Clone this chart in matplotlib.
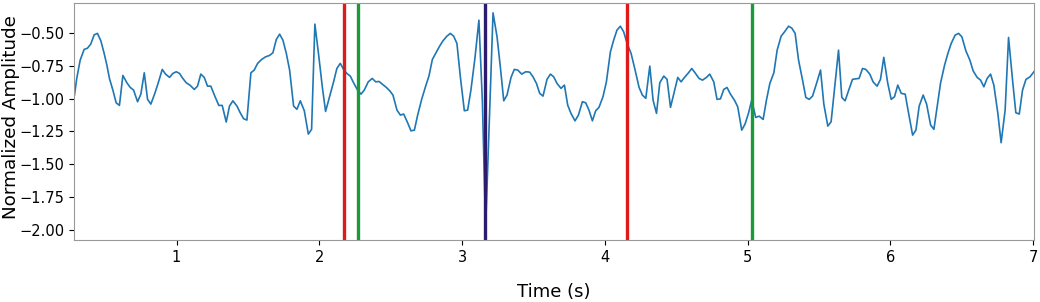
import matplotlib
matplotlib.use('Agg')
import matplotlib.pyplot as plt

# signal (time in s, normalized amplitude)
time_s = [
    0.285, 0.301, 0.325, 0.353, 0.376, 0.399, 0.423, 0.446, 0.470, 0.493,
    0.512, 0.530, 0.554, 0.577, 0.600, 0.624, 0.652, 0.676, 0.699, 0.727,
    0.750, 0.774, 0.797, 0.820, 0.848, 0.872, 0.900, 0.923, 0.951, 0.974,
    0.998, 1.021, 1.044, 1.068, 1.096, 1.124, 1.147, 1.170, 1.194, 1.217,
    1.240, 1.268, 1.296, 1.320, 1.348, 1.371, 1.395, 1.423, 1.446, 1.470,
    1.493, 1.521, 1.544, 1.568, 1.596, 1.624, 1.652, 1.675, 1.699, 1.722,
    1.745, 1.769, 1.792, 1.820, 1.843, 1.867, 1.895, 1.923, 1.946, 1.969,
    1.997, 2.021, 2.044, 2.072, 2.100, 2.123, 2.147, 2.170, 2.193, 2.217,
    2.240, 2.268, 2.292, 2.315, 2.343, 2.371, 2.395, 2.418, 2.441, 2.470,
    2.493, 2.516, 2.544, 2.568, 2.591, 2.619, 2.642, 2.666, 2.689, 2.717,
    2.745, 2.768, 2.792, 2.815, 2.843, 2.866, 2.894, 2.918, 2.941, 2.964,
    2.988, 3.016, 3.039, 3.062, 3.090, 3.118, 3.142, 3.165, 3.217, 3.245,
    3.268, 3.292, 3.315, 3.343, 3.366, 3.390, 3.418, 3.446, 3.474, 3.497,
    3.521, 3.544, 3.567, 3.595, 3.619, 3.642, 3.665, 3.693, 3.717, 3.740,
    3.763, 3.791, 3.815, 3.843, 3.866, 3.889, 3.913, 3.936, 3.959, 3.987,
    4.011, 4.039, 4.062, 4.085, 4.109, 4.132, 4.156, 4.184, 4.212, 4.240,
    4.263, 4.287, 4.315, 4.338, 4.362, 4.385, 4.413, 4.436, 4.460, 4.488,
    4.511, 4.534, 4.558, 4.586, 4.609, 4.632, 4.660, 4.684, 4.712, 4.735,
    4.763, 4.786, 4.810, 4.833, 4.856, 4.880, 4.908, 4.931, 4.959, 4.982,
    5.006, 5.029, 5.057, 5.081, 5.109, 5.132, 5.156, 5.184, 5.207, 5.235,
    5.259, 5.287, 5.310, 5.333, 5.357, 5.385, 5.408, 5.431, 5.455, 5.483,
    5.511, 5.534, 5.562, 5.585, 5.613, 5.637, 5.660, 5.683, 5.707, 5.735,
    5.758, 5.781, 5.805, 5.828, 5.856, 5.879, 5.907, 5.931, 5.954, 5.982,
    6.006, 6.029, 6.052, 6.076, 6.104, 6.128, 6.156, 6.179, 6.202, 6.230,
    6.254, 6.282, 6.305, 6.328, 6.352, 6.380, 6.403, 6.426, 6.454, 6.478,
    6.501, 6.529, 6.557, 6.580, 6.608, 6.632, 6.655, 6.678, 6.702, 6.725,
    6.753, 6.776, 6.804, 6.828, 6.856, 6.879, 6.903, 6.926, 6.950, 6.978,
    7.006,
]
amplitude = [
    -0.973, -0.846, -0.706, -0.624, -0.615, -0.584, -0.513, -0.502, -0.559, -0.655,
    -0.744, -0.846, -0.935, -1.032, -1.052, -0.823, -0.879, -0.915, -0.935, -1.024,
    -0.966, -0.803, -1.006, -1.042, -0.960, -0.879, -0.777, -0.813, -0.838, -0.808,
    -0.795, -0.808, -0.846, -0.879, -0.899, -0.930, -0.905, -0.813, -0.838, -0.905,
    -0.905, -0.981, -1.052, -1.052, -1.179, -1.057, -1.017, -1.057, -1.108, -1.154,
    -1.164, -0.803, -0.782, -0.731, -0.701, -0.681, -0.670, -0.650, -0.548, -0.508,
    -0.553, -0.655, -0.782, -1.057, -1.082, -1.017, -1.093, -1.271, -1.235, -0.431,
    -0.681, -0.910, -1.098, -0.986, -0.872, -0.770, -0.731, -0.777, -0.808, -0.828,
    -0.879, -0.935, -0.966, -0.935, -0.872, -0.846, -0.872, -0.869, -0.889, -0.915,
    -0.940, -0.973, -1.088, -1.126, -1.118, -1.185, -1.246, -1.241, -1.126, -1.006,
    -0.905, -0.828, -0.701, -0.655, -0.599, -0.559, -0.523, -0.502, -0.523, -0.579,
    -0.834, -1.093, -1.088, -0.935, -0.693, -0.401, -1.012, -1.990, -0.345, -0.528,
    -0.757, -1.017, -0.973, -0.838, -0.777, -0.782, -0.813, -0.795, -0.798, -0.834,
    -0.884, -0.960, -0.981, -0.853, -0.813, -0.834, -0.884, -0.922, -0.897, -1.050,
    -1.113, -1.170, -1.126, -1.024, -1.032, -1.088, -1.170, -1.093, -1.067, -0.986,
    -0.872, -0.643, -0.553, -0.477, -0.447, -0.490, -0.579, -0.655, -0.782, -0.915,
    -0.973, -0.998, -0.752, -1.012, -1.113, -0.879, -0.828, -0.853, -1.067, -0.940,
    -0.838, -0.872, -0.838, -0.803, -0.770, -0.803, -0.846, -0.859, -0.838, -0.813,
    -0.872, -1.006, -1.002, -0.930, -0.915, -0.966, -1.012, -1.063, -1.241, -1.195,
    -1.113, -1.012, -1.144, -1.134, -1.159, -1.012, -0.884, -0.803, -0.630, -0.523,
    -0.490, -0.447, -0.462, -0.502, -0.706, -0.859, -0.991, -1.006, -0.981, -0.884,
    -0.782, -1.042, -1.210, -1.177, -0.884, -0.630, -0.991, -1.017, -0.940, -0.853,
    -0.849, -0.846, -0.770, -0.777, -0.813, -0.872, -0.905, -0.853, -0.685, -0.884,
    -1.006, -0.986, -0.897, -0.960, -0.966, -1.113, -1.279, -1.241, -1.057, -0.973,
    -1.042, -1.202, -1.235, -1.063, -0.879, -0.744, -0.655, -0.579, -0.515, -0.502,
    -0.528, -0.635, -0.706, -0.788, -0.838, -0.859, -0.910, -0.846, -0.813, -0.897,
    -1.113, -1.337, -1.088, -0.533, -0.859, -1.108, -1.118, -0.935, -0.853, -0.834,
    -0.795,
]

# event markers (s)
red_events = [2.176, 4.156]
green_events = [2.270, 5.032]
purple_events = [3.158]

fig, ax = plt.subplots(figsize=(10.4, 3.02), dpi=100)
fig.subplots_adjust(left=0.0716, right=0.9942, top=0.990, bottom=0.2053)

ax.plot(time_s, amplitude, color='#1f77b4', linewidth=1.2)

for t in red_events:
    ax.axvline(t, color='#e0191b', linewidth=2.4)
for t in green_events:
    ax.axvline(t, color='#1a9a3a', linewidth=2.4)
for t in purple_events:
    ax.axvline(t, color='#2d1b6e', linewidth=2.4)

ax.set_xlim(time_s[0], time_s[-1])
ax.set_ylim(-2.08, -0.27)
ax.set_yticks([-2.0, -1.75, -1.5, -1.25, -1.0, -0.75, -0.5])
ax.set_xticks([1, 2, 3, 4, 5, 6, 7])

ax.set_xlabel('Time (s)', fontsize=13, labelpad=13)
ax.set_ylabel('Normalized Amplitude', fontsize=13.2)
ax.yaxis.set_label_coords(-0.057, 0.52)
ax.tick_params(labelsize=10.5)

for s in ax.spines.values():
    s.set_color('#999999')

fig.savefig('out.png', dpi=100)
